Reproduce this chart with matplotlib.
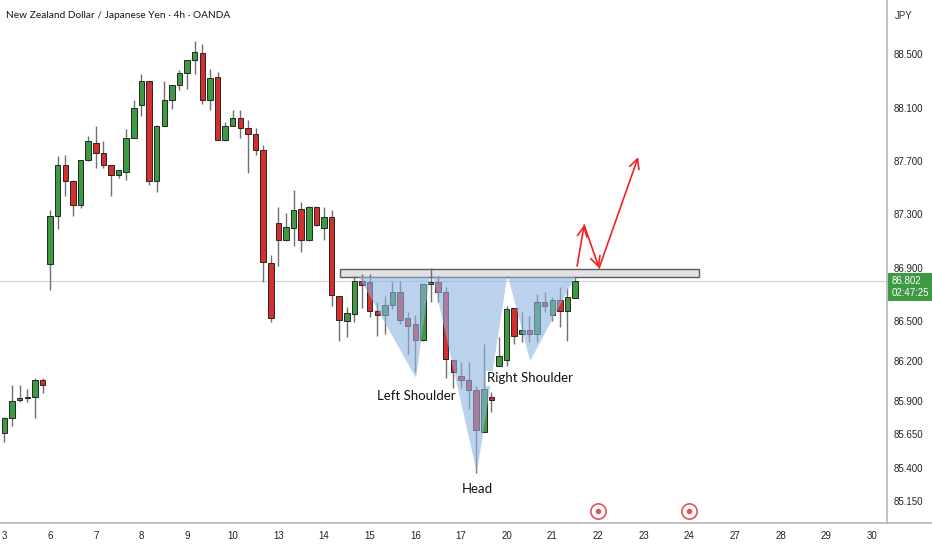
import numpy as np
import matplotlib
matplotlib.use("Agg")
import matplotlib.pyplot as plt
from matplotlib.patches import Rectangle
from matplotlib.transforms import blended_transform_factory

plt.rcParams['font.family'] = ['Lato', 'DejaVu Sans']

# ====== NZDJPY 4h candles ======
opens = [85.66, 85.775, 85.91, 85.925, 85.93, 86.06,
         86.93, 87.285, 87.67, 87.55, 87.37, 87.71,
         87.836, 87.76, 87.67, 87.594, 87.62, 87.87,
         88.123, 88.30, 87.55, 87.96, 88.16, 88.27,
         88.36, 88.46, 88.51, 88.16, 88.33, 87.86,
         87.96, 88.02, 87.95, 87.90, 87.78, 86.938,
         87.232, 87.104, 87.20, 87.338, 87.11, 87.353,
         87.194, 87.277, 86.69, 86.50, 86.55, 86.80,
         86.79, 86.575, 86.545, 86.62, 86.72, 86.52,
         86.48, 86.36, 86.78, 86.79, 86.72, 86.21,
         86.09, 86.06, 85.98, 85.67, 85.93, 86.16,
         86.21, 86.60, 86.40, 86.43, 86.40, 86.64,
         86.545, 86.66, 86.575, 86.674]
highs = [85.78, 86.02, 86.02, 85.99, 86.07, 86.07,
         87.33, 87.74, 87.745, 87.56, 87.71, 87.89,
         87.96, 87.85, 87.67, 87.63, 87.94, 88.16,
         88.35, 88.30, 87.97, 88.30, 88.27, 88.38,
         88.46, 88.60, 88.575, 88.39, 88.37, 87.99,
         88.08, 88.08, 88.01, 87.95, 87.82, 86.998,
         87.353, 87.308, 87.48, 87.39, 87.36, 87.36,
         87.353, 87.33, 86.69, 86.606, 86.84, 86.85,
         86.85, 86.64, 86.69, 86.80, 86.80, 86.57,
         86.545, 86.78, 86.90, 86.84, 86.757, 86.21,
         86.19, 86.19, 86.01, 86.33, 85.97, 86.38,
         86.61, 86.60, 86.57, 86.54, 86.70, 86.72,
         86.68, 86.757, 86.75, 86.83]
lows = [85.59, 85.71, 85.89, 85.89, 85.77, 85.957,
        86.73, 87.19, 87.44, 87.285, 87.35, 87.70,
        87.65, 87.65, 87.44, 87.57, 87.557, 87.87,
        88.04, 87.52, 87.47, 87.96, 88.09, 88.23,
        88.24, 88.35, 88.13, 88.085, 87.86, 87.85,
        87.96, 87.87, 87.61, 87.745, 86.79, 86.49,
        86.915, 87.10, 87.066, 87.02, 87.10, 87.21,
        87.11, 86.61, 86.35, 86.38, 86.49, 86.60,
        86.53, 86.39, 86.40, 86.59, 86.48, 86.25,
        86.115, 86.35, 86.64, 86.64, 86.07, 86.00,
        86.00, 85.84, 85.36, 85.67, 85.82, 86.16,
        86.16, 86.33, 86.34, 86.34, 86.34, 86.57,
        86.50, 86.455, 86.35, 86.67]
closes = [85.775, 85.90, 85.925, 85.93, 86.06, 86.017,
          87.285, 87.67, 87.55, 87.37, 87.71, 87.85,
          87.76, 87.67, 87.594, 87.63, 87.874, 88.10,
          88.30, 87.55, 87.96, 88.16, 88.27, 88.36,
          88.455, 88.515, 88.16, 88.326, 87.86, 87.96,
          88.02, 87.95, 87.90, 87.78, 86.945, 86.52,
          87.104, 87.202, 87.33, 87.11, 87.353, 87.217,
          87.277, 86.696, 86.51, 86.56, 86.80, 86.77,
          86.575, 86.545, 86.62, 86.72, 86.51, 86.46,
          86.36, 86.78, 86.795, 86.72, 86.213, 86.115,
          86.06, 85.98, 85.68, 85.99, 85.91, 86.24,
          86.59, 86.39, 86.43, 86.40, 86.64, 86.61,
          86.66, 86.575, 86.68, 86.802]

day_labels = ['3', '6', '7', '8', '9', '10', '13', '14', '15', '16', '17',
              '20', '21', '22', '23', '24', '27', '28', '29', '30']
bars_per_day = 6
price_ticks = [88.5, 88.1, 87.7, 87.3, 86.9, 86.5, 86.2, 85.9, 85.65, 85.4, 85.15]
event_days = ['22', '24']

# ====== pattern drawing (index, price) ======
neck_lo, neck_hi = 86.83, 86.89
neck_x = (44.1, 91.3)
left_shoulder = [(46.6, 86.83), (55.9, 86.83), (54.1, 86.072)]
head = [(56.3, 86.83), (66.07, 86.83), (62.1, 85.359)]
right_shoulder = [(66.2, 86.83), (75.0, 86.83), (69.1, 86.20)]
arrow_path = [(75.27, 86.912), (76.19, 87.22), (78.16, 86.897), (83.3, 87.73)]

GREEN = '#3d9942'
RED = '#d32f2f'

fig = plt.figure(figsize=(9.32, 5.5), dpi=100)
ax = fig.add_axes([0, 27 / 550, 887 / 932, 523 / 550])

idx = np.arange(len(opens))
o = np.array(opens)
c = np.array(closes)
up = c >= o
colors = np.where(up, GREEN, RED)
bottoms = np.minimum(o, c)
heights = np.maximum(np.abs(c - o), 0.006)

ax.vlines(idx, lows, highs, color='#707070', lw=1, zorder=2)
ax.bar(idx, heights, bottom=bottoms, width=0.72, color=colors,
       edgecolor='#262626', linewidth=0.7, zorder=3)

# neckline box
ax.add_patch(Rectangle((neck_x[0], neck_lo), neck_x[1] - neck_x[0], neck_hi - neck_lo,
                       facecolor='#e2e2e2', edgecolor='#5a5a5a', lw=1, zorder=1.5))

# shoulders / head triangles
for tri in (left_shoulder, head, right_shoulder):
    xs, ys = zip(*tri)
    ax.fill(xs, ys, color='#8fb4e0', alpha=0.6, lw=0, zorder=4)

# current price line
ax.axhline(closes[-1], color='#cfd6e0', lw=0.9, zorder=1)

# red projection arrows
for (x0, y0), (x1, y1) in zip(arrow_path[:-1], arrow_path[1:]):
    ax.annotate('', xy=(x1, y1), xytext=(x0, y0),
                arrowprops=dict(arrowstyle='->, head_length=0.7, head_width=0.35',
                                color='#ee2222', lw=1.2, shrinkA=0, shrinkB=0),
                zorder=6)

# labels
txt_kw = dict(fontsize=9.5, color='#111111', ha='center', va='center', zorder=7)
ax.text(54.1, 85.935, 'Left Shoulder', bbox=dict(fc='white', ec='none', pad=1), **txt_kw)
ax.text(69.1, 86.07, 'Right Shoulder', bbox=dict(fc='white', ec='none', pad=1), **txt_kw)
ax.text(62.1, 85.24, 'Head', **txt_kw)

# event markers at the bottom
tick_pos = np.arange(len(day_labels)) * bars_per_day
trans = blended_transform_factory(ax.transData, ax.transAxes)
for d in event_days:
    xp = tick_pos[day_labels.index(d)]
    ax.plot(xp, 0.023, 'o', ms=11, mfc='white', mec='#e8505b', mew=1.2,
            transform=trans, clip_on=False, zorder=6)
    ax.plot(xp, 0.023, 'o', ms=4, mfc='#e8505b', mec='none',
            transform=trans, clip_on=False, zorder=7)

ax.set_xlim(-0.59, 116.0)
ax.set_ylim(84.984, 88.908)

ax.set_xticks(tick_pos)
ax.set_xticklabels(day_labels)
ax.set_yticks(price_ticks)
ax.set_yticklabels([f"{p:.3f}" for p in price_ticks])
ax.yaxis.tick_right()
ax.tick_params(axis='y', length=0, pad=4.5, labelsize=7, labelcolor='#222222')
ax.tick_params(axis='x', length=0, pad=6, labelsize=7, labelcolor='#222222')
for lab in ax.get_xticklabels() + ax.get_yticklabels():
    lab.set_family(['Liberation Sans', 'DejaVu Sans'])

for side in ('left', 'top'):
    ax.spines[side].set_visible(False)
for side in ('right', 'bottom'):
    ax.spines[side].set_color('#b4b4b4')
    ax.spines[side].set_linewidth(1.2)
ax.spines['bottom'].set_bounds(-0.59, 122)
ax.spines['bottom'].set_clip_on(False)

# last price tag
ax.annotate(f"{closes[-1]:.3f}\n02:47:25", xy=(1.0, closes[-1]),
            xycoords=('axes fraction', 'data'), xytext=(3, -4.5),
            textcoords='offset points', ha='left', va='center',
            fontsize=7, color='white', linespacing=1.3, annotation_clip=False,
            family=['Liberation Sans', 'DejaVu Sans'],
            bbox=dict(boxstyle='square,pad=0.3', fc='#3c9b40', ec='none'))

fig.text(6 / 932, 1 - 16 / 550, 'New Zealand Dollar / Japanese Yen \u00b7 4h \u00b7 OANDA',
         fontsize=7.3, color='#131722', va='center', ha='left')
fig.text(904 / 932, 1 - 16 / 550, 'JPY', fontsize=7, color='#333333', va='center', ha='center',
         family=['Liberation Sans', 'DejaVu Sans'])

fig.savefig('out.png', dpi=100, facecolor='white')
